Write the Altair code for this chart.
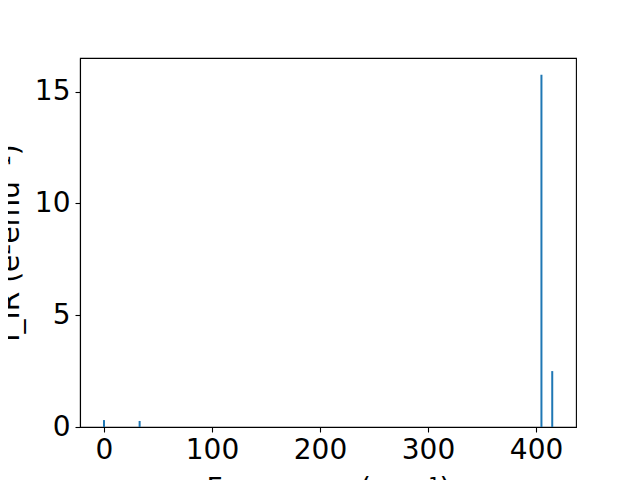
import altair as alt
import pandas as pd

freqs = [0, 33, 405, 415]
intensities = [0.31, 0.27, 15.75, 2.5]

df = pd.DataFrame({"freq": freqs, "inten": intensities})

font = "DejaVu Sans"

chart = alt.Chart(df).mark_rule(color="#1f77b4", strokeWidth=2).encode(
    x=alt.X("freq:Q",
            scale=alt.Scale(domain=[-22.2, 437], nice=False, zero=False),
            axis=alt.Axis(values=[0, 100, 200, 300, 400], title="Frequency (cm⁻¹)",
                          grid=False, tickSize=5, labelPadding=4,
                          titleY=70, titleBaseline="alphabetic")),
    y=alt.Y("inten:Q",
            scale=alt.Scale(domain=[0, 16.5], nice=False),
            axis=alt.Axis(values=[0, 5, 10, 15], title="I_IR (e²emu⁻¹)",
                          grid=False, tickSize=5, labelPadding=5,
                          titleX=-62, titleY=184.5, titleAlign="center",
                          titleBaseline="alphabetic", titleAngle=270)),
    y2=alt.datum(0),
).properties(
    width=496, height=369,
    background="white",
    autosize=alt.AutoSizeParams(type="none"),
    padding={"left": 72, "top": 50, "right": 56, "bottom": 53},
).configure_axis(
    labelFont=font, titleFont=font, labelFontSize=28, titleFontSize=28,
    labelColor="black", titleColor="black", tickColor="black",
    domainColor="black", domainWidth=1.1, tickWidth=1.1,
    titleFontWeight="normal", labelFlush=False,
).configure_view(
    stroke="black", strokeWidth=1.1,
)

chart.save("out.html", embed_options={"renderer": "svg", "actions": False})
